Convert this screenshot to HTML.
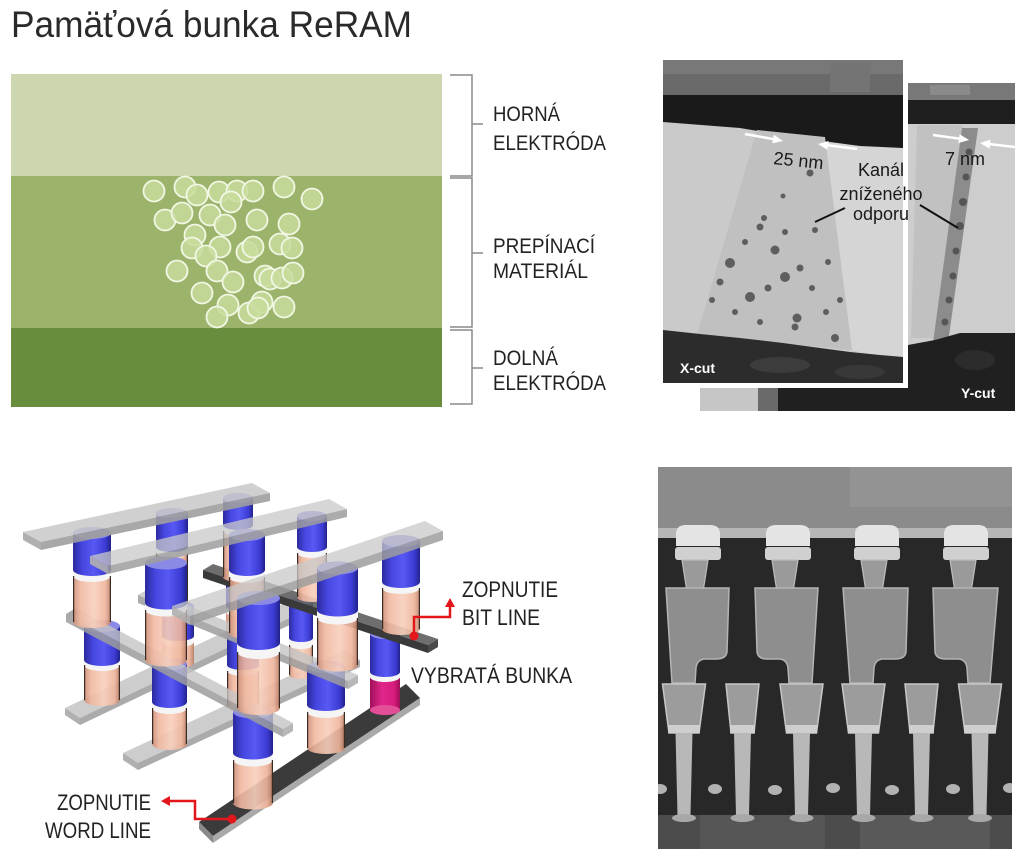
<!DOCTYPE html>
<html><head><meta charset="utf-8"><style>
html,body{margin:0;padding:0;background:#fff;}
svg{display:block;}
text{font-family:"Liberation Sans",sans-serif;}
</style></head><body>
<svg width="1024" height="857" viewBox="0 0 1024 857" xmlns="http://www.w3.org/2000/svg">
<defs>
<linearGradient id="blu" x1="0" x2="1" y1="0" y2="0"><stop offset="0" stop-color="#2a2a9e"/><stop offset=".25" stop-color="#4646e0"/><stop offset=".55" stop-color="#5858f4"/><stop offset=".85" stop-color="#3c3cd4"/><stop offset="1" stop-color="#22228a"/></linearGradient>
<linearGradient id="pch" x1="0" x2="1" y1="0" y2="0"><stop offset="0" stop-color="#c98c74"/><stop offset=".2" stop-color="#f0b8a0"/><stop offset=".55" stop-color="#f8cfbc"/><stop offset=".85" stop-color="#eeb49a"/><stop offset="1" stop-color="#b97b63"/></linearGradient>
<linearGradient id="mag" x1="0" x2="1" y1="0" y2="0"><stop offset="0" stop-color="#a0105a"/><stop offset=".4" stop-color="#e0268a"/><stop offset=".8" stop-color="#d81c7c"/><stop offset="1" stop-color="#9c0e56"/></linearGradient>
<clipPath id="xc"><rect x="663" y="60" width="240" height="323"/></clipPath>
<clipPath id="sem"><rect x="658" y="467" width="354" height="382"/></clipPath>
</defs>
<rect width="1024" height="857" fill="#fff"/>

<!-- Title -->
<text x="11" y="37" font-size="37" fill="#2a2a2a" textLength="401" lengthAdjust="spacingAndGlyphs">Pamäťová bunka ReRAM</text>

<!-- Green panel -->
<rect x="11" y="74" width="431" height="102" fill="#ccd7b0"/>
<rect x="11" y="176" width="431" height="152" fill="#9cb36c"/>
<rect x="11" y="328" width="431" height="79" fill="#678d3d"/>
<g fill="#c8dc9c" fill-opacity=".85" stroke="#f2f7e4" stroke-width="1.8">
<circle cx="154" cy="191" r="10.5"/><circle cx="185" cy="187" r="10.5"/><circle cx="197" cy="195" r="10.5"/><circle cx="219" cy="192" r="10.5"/><circle cx="237" cy="191" r="10.5"/><circle cx="253" cy="191" r="10.5"/><circle cx="231" cy="202" r="10.5"/><circle cx="284" cy="187" r="10.5"/><circle cx="312" cy="199" r="10.5"/>
<circle cx="165" cy="220" r="10.5"/><circle cx="182" cy="213" r="10.5"/><circle cx="210" cy="215" r="10.5"/><circle cx="225" cy="225" r="10.5"/><circle cx="257" cy="220" r="10.5"/><circle cx="289" cy="224" r="10.5"/>
<circle cx="195" cy="235" r="10.5"/><circle cx="192" cy="248" r="10.5"/><circle cx="220" cy="247" r="10.5"/><circle cx="206" cy="256" r="10.5"/><circle cx="247" cy="252" r="10.5"/><circle cx="253" cy="247" r="10.5"/><circle cx="280" cy="244" r="10.5"/><circle cx="292" cy="248" r="10.5"/>
<circle cx="177" cy="271" r="10.5"/><circle cx="217" cy="271" r="10.5"/><circle cx="233" cy="282" r="10.5"/><circle cx="265" cy="276" r="10.5"/><circle cx="270" cy="279" r="10.5"/><circle cx="282" cy="278" r="10.5"/><circle cx="293" cy="273" r="10.5"/>
<circle cx="202" cy="293" r="10.5"/><circle cx="228" cy="305" r="10.5"/><circle cx="217" cy="317" r="10.5"/><circle cx="249" cy="313" r="10.5"/><circle cx="262" cy="302" r="10.5"/><circle cx="258" cy="308" r="10.5"/><circle cx="284" cy="307" r="10.5"/>
</g>
<path d="M450,75H472V176H450M472,124H483M450,178H472V327H450M472,253H483M450,330H472V404H450M472,368H483" fill="none" stroke="#8a8a8a" stroke-width="1.5"/>
<g font-size="21.5" fill="#222">
<text x="493" y="121" textLength="67" lengthAdjust="spacingAndGlyphs">HORNÁ</text>
<text x="493" y="150" textLength="113" lengthAdjust="spacingAndGlyphs">ELEKTRÓDA</text>
<text x="493" y="253" textLength="102" lengthAdjust="spacingAndGlyphs">PREPÍNACÍ</text>
<text x="493" y="278" textLength="95" lengthAdjust="spacingAndGlyphs">MATERIÁL</text>
<text x="493" y="365" textLength="65" lengthAdjust="spacingAndGlyphs">DOLNÁ</text>
<text x="493" y="390" textLength="113" lengthAdjust="spacingAndGlyphs">ELEKTRÓDA</text>
</g>

<!-- TEM: Y-cut back panel -->
<rect x="700" y="83" width="315" height="328" fill="#cdcdcd"/>
<rect x="700" y="83" width="315" height="18" fill="#787878"/>
<rect x="930" y="85" width="40" height="10" fill="#8a8a8a"/>
<rect x="700" y="100" width="315" height="24" fill="#1e1e1e"/>
<polygon points="917,125 962,125 940,338 911,338" fill="#c1c1c1"/>
<polygon points="962,128 978,128 948,343 933,343" fill="#8c8c8c"/>
<g fill="#555"><circle cx="969" cy="152" r="3.5"/><circle cx="966" cy="177" r="3.5"/><circle cx="963" cy="202" r="4"/><circle cx="960" cy="226" r="4"/><circle cx="956" cy="251" r="3.5"/><circle cx="953" cy="276" r="3.5"/><circle cx="949" cy="300" r="3.5"/><circle cx="945" cy="322" r="3.5"/></g>
<path d="M908,345L935,340L960,333L1015,333V411H700V345Z" fill="#202020"/>
<ellipse cx="975" cy="360" rx="20" ry="10" fill="#2c2c2c"/>
<rect x="700" y="386" width="58" height="25" fill="#c6c6c6"/>
<rect x="758" y="386" width="20" height="25" fill="#6a6a6a"/>
<text x="961" y="398" font-size="14" font-weight="bold" fill="#fff">Y-cut</text>

<!-- TEM: X-cut panel -->
<rect x="663" y="60" width="245" height="328" fill="#fff"/>
<g clip-path="url(#xc)">
<rect x="663" y="60" width="240" height="323" fill="#cacaca"/>
<polygon points="823,137 903,147 903,360 850,350" fill="#d5d5d5"/>
<rect x="663" y="60" width="240" height="38" fill="#6a6a6a"/>
<rect x="663" y="60" width="240" height="14" fill="#787878"/>
<rect x="830" y="62" width="40" height="30" fill="#747474"/>
<polygon points="663,95 903,95 903,148 860,146 830,142 800,139 770,133 740,128 663,122" fill="#1a1a1a"/>
<polygon points="757,130 825,137 852,350 697,335" fill="#c0c0c0"/>
<g fill="#5e5e5e">
<circle cx="810" cy="173" r="3.5"/><circle cx="783" cy="196" r="2.5"/><circle cx="764" cy="218" r="3"/><circle cx="760" cy="227" r="3.5"/><circle cx="785" cy="232" r="3"/><circle cx="775" cy="250" r="4.5"/><circle cx="730" cy="263" r="5"/><circle cx="745" cy="242" r="3"/><circle cx="720" cy="282" r="3.5"/><circle cx="785" cy="277" r="5"/><circle cx="800" cy="268" r="3.5"/><circle cx="750" cy="297" r="5"/><circle cx="768" cy="288" r="3.5"/><circle cx="812" cy="288" r="3"/><circle cx="797" cy="318" r="4.5"/><circle cx="795" cy="327" r="3.5"/><circle cx="835" cy="338" r="4"/><circle cx="826" cy="312" r="3"/><circle cx="735" cy="312" r="3"/><circle cx="760" cy="322" r="3"/><circle cx="815" cy="230" r="3"/><circle cx="828" cy="262" r="3"/><circle cx="712" cy="300" r="3"/><circle cx="840" cy="300" r="3"/>
</g>
<path d="M663,330L700,334L740,338L783,343L820,348L850,352L880,355L903,357V383H663Z" fill="#2c2c2c"/>
<ellipse cx="780" cy="365" rx="30" ry="8" fill="#3c3c3c"/>
<ellipse cx="860" cy="372" rx="25" ry="7" fill="#383838"/>
<text x="680" y="373" font-size="14" font-weight="bold" fill="#fff">X-cut</text>
</g>
<!-- white arrows -->
<g stroke="#fff" stroke-width="2.5" fill="none"><path d="M745,134L776,139.6"/><path d="M857,149L826,145"/><path d="M933,135L962,139"/><path d="M1015,147L986,143.7"/></g>
<g fill="#fff"><polygon points="783,141 772.2,143.4 773.8,134.6"/><polygon points="818,144 828.6,141 827.4,149.9"/><polygon points="969,140 958.4,143 959.6,134.2"/><polygon points="980,143 990.5,139.6 989.5,148.6"/></g>
<g fill="#1a1a1a" font-size="18">
<text x="773" y="164" transform="rotate(6 773 164)">25 nm</text>
<text x="945" y="165">7 nm</text>
<text x="881" y="176" text-anchor="middle">Kanál</text>
<text x="881" y="200" text-anchor="middle">zníženého</text>
<text x="881" y="220" text-anchor="middle">odporu</text>
</g>
<path d="M815,222L845,208M920,205L958,228" stroke="#111" stroke-width="2"/>

<!-- SEM image -->
<g clip-path="url(#sem)">
<rect x="658" y="467" width="354" height="382" fill="#282828"/>
<rect x="658" y="467" width="354" height="63" fill="#8b8b8b"/>
<rect x="850" y="467" width="162" height="40" fill="#939393"/>
<rect x="658" y="528" width="354" height="10" fill="#b6b6b6"/>
<g>
<path d="M676,546V534Q676,525 686,525H710Q720,525 720,534V546Z" fill="#e4e4e4"/><rect x="675" y="547" width="46" height="13" rx="3" fill="#d0d0d0"/>
<path d="M766,546V534Q766,525 776,525H800Q810,525 810,534V546Z" fill="#e4e4e4"/><rect x="765" y="547" width="46" height="13" rx="3" fill="#d0d0d0"/>
<path d="M855,546V534Q855,525 865,525H889Q899,525 899,534V546Z" fill="#e4e4e4"/><rect x="854" y="547" width="46" height="13" rx="3" fill="#d0d0d0"/>
<path d="M944,546V534Q944,525 954,525H978Q988,525 988,534V546Z" fill="#e4e4e4"/><rect x="943" y="547" width="46" height="13" rx="3" fill="#d0d0d0"/>
</g>
<g fill="#9a9a9a" stroke="#bdbdbd" stroke-width="1.2">
<polygon points="682,560 708,560 703,592 687,592"/><polygon points="772,560 798,560 793,592 777,592"/><polygon points="861,560 887,560 882,592 866,592"/><polygon points="950,560 976,560 971,592 955,592"/>
</g>
<g fill="#8e8e8e" stroke="#b4b4b4" stroke-width="1.5">
<path d="M666,588L729,588L727,652Q726,659 716,659L704,659Q697,660 696,668L695,683L672,683Z"/>
<path d="M755,588L818,588L812,683L789,683L788,668Q787,660 780,659L767,659Q758,659 757,652Z"/>
<path d="M843,588L908,588L906,652Q905,659 895,659L882,659Q875,660 874,668L873,683L850,683Z"/>
<path d="M933,588L998,588L990,683L968,683L967,668Q966,660 959,659L946,659Q936,659 935,652Z"/>
</g>
<g fill="#9c9c9c" stroke="#c6c6c6" stroke-width="1.5">
<polygon points="662.5,684 705.5,684 699,733 669,733"/><polygon points="726,684 759,684 754,733 731,733"/><polygon points="780,684 823,684 816.5,733 786.5,733"/><polygon points="842,684 885,684 878.5,733 848.5,733"/><polygon points="905,684 938,684 933,733 910,733"/><polygon points="958.5,684 1001.5,684 995,733 965,733"/>
</g>
<g fill="#cfcfcf"><rect x="668" y="725" width="32" height="8"/><rect x="730" y="725" width="25" height="8"/><rect x="786" y="725" width="31" height="8"/><rect x="848" y="725" width="31" height="8"/><rect x="909" y="725" width="25" height="8"/><rect x="964" y="725" width="32" height="8"/></g>
<rect x="658" y="815" width="354" height="34" fill="#4c4c4c"/>
<rect x="700" y="815" width="125" height="34" fill="#565656"/><rect x="860" y="815" width="130" height="34" fill="#595959"/>
<g fill="#b8b8b8">
<polygon points="675.5,733 692.5,733 690.5,815 677.5,815"/><polygon points="734,733 751,733 749,815 736,815"/><polygon points="793,733 810,733 808,815 795,815"/><polygon points="855,733 872,733 870,815 857,815"/><polygon points="913,733 930,733 928,815 915,815"/><polygon points="971.5,733 988.5,733 986.5,815 973.5,815"/>
</g>
<g fill="#a8a8a8"><ellipse cx="684" cy="818" rx="12" ry="4"/><ellipse cx="742.5" cy="818" rx="12" ry="4"/><ellipse cx="801.5" cy="818" rx="12" ry="4"/><ellipse cx="863.5" cy="818" rx="12" ry="4"/><ellipse cx="921.5" cy="818" rx="12" ry="4"/><ellipse cx="980" cy="818" rx="12" ry="4"/></g>
<g fill="#b2b2b2"><ellipse cx="660" cy="789" rx="7" ry="5"/><ellipse cx="715" cy="789" rx="7" ry="5"/><ellipse cx="775" cy="790" rx="7" ry="5"/><ellipse cx="833" cy="788" rx="7" ry="5"/><ellipse cx="892" cy="790" rx="7" ry="5"/><ellipse cx="953" cy="789" rx="7" ry="5"/><ellipse cx="1010" cy="788" rx="7" ry="5"/></g>
</g>

<!-- Crossbar: bottom bars -->
<g>
<polygon points="80,718 300,613 285,603 65,708" fill="#c4c4c4" fill-opacity=".85"/>
<polygon points="80,718 300,613 300,620 80,725" fill="#9c9c9c" fill-opacity=".85"/>
<polygon points="65,708 80,718 80,725 65,715" fill="#b0b0b0"/>
<polygon points="138,763 360,660 345,650 123,753" fill="#c4c4c4" fill-opacity=".85"/>
<polygon points="138,763 360,660 360,667 138,770" fill="#9c9c9c" fill-opacity=".85"/>
<polygon points="123,753 138,763 138,770 123,760" fill="#b0b0b0"/>
<polygon points="213,836 420,698 406,684 199,822" fill="#3b3b3b"/>
<polygon points="213,836 420,698 420,705 213,843" fill="#a9a9a9"/>
<polygon points="199,822 213,836 213,843 199,829" fill="#8a8a8a"/>
</g>

<!-- lower pillars -->
<g>
<!-- L_C -->
<path d="M226,612V634A14,4.5 0 0 0 254,634V612Z" fill="url(#pch)" opacity=".9"/><path d="M226,606V612A14,4.5 0 0 0 254,612V606Z" fill="#f5f5f5"/><path d="M226,580V606A14,4.5 0 0 0 254,606V580Z" fill="url(#blu)"/><ellipse cx="240" cy="580" rx="14" ry="4.5" fill="#8a8ae6"/>
<!-- L_B -->
<path d="M162,642V663A16,5 0 0 0 194,663V642Z" fill="url(#pch)" opacity=".9"/><path d="M162,636V642A16,5 0 0 0 194,642V636Z" fill="#f5f5f5"/><path d="M162,606V636A16,5 0 0 0 194,636V606Z" fill="url(#blu)"/><ellipse cx="178" cy="606" rx="16" ry="5" fill="#8a8ae6"/>
<!-- L_F -->
<path d="M289,645V675A12,4 0 0 0 313,675V645Z" fill="url(#pch)" opacity=".9"/><path d="M289,638V645A12,4 0 0 0 313,645V638Z" fill="#f5f5f5"/><path d="M289,601V638A12,4 0 0 0 313,638V601Z" fill="url(#blu)"/><ellipse cx="301" cy="601" rx="12" ry="4" fill="#8a8ae6"/>
<path d="M289.6,645V675M312.4,645V675" stroke="#3c2a24" stroke-width="1.2"/>
<!-- L_A -->
<path d="M84,665V700A18,6 0 0 0 120,700V665Z" fill="url(#pch)" opacity=".9"/><path d="M84,660V665A18,6 0 0 0 120,665V660Z" fill="#f5f5f5"/><path d="M84,626V660A18,6 0 0 0 120,660V626Z" fill="url(#blu)"/><ellipse cx="102" cy="626" rx="18" ry="6" fill="#8a8ae6"/>
<path d="M84.6,665V700M119.4,665V700" stroke="#3c2a24" stroke-width="1.2"/>
<!-- L_E -->
<path d="M227,671V706A16,5 0 0 0 259,706V671Z" fill="url(#pch)" opacity=".9"/><path d="M227,665V671A16,5 0 0 0 259,671V665Z" fill="#f5f5f5"/><path d="M227,637V665A16,5 0 0 0 259,665V637Z" fill="url(#blu)"/><ellipse cx="243" cy="637" rx="16" ry="5" fill="#8a8ae6"/>
<path d="M227.6,671V706M258.4,671V706" stroke="#3c2a24" stroke-width="1.2"/>
<!-- L_I magenta -->
<path d="M370,677V710A15,5 0 0 0 400,710V677Z" fill="url(#mag)"/><ellipse cx="385" cy="710" rx="15" ry="5" fill="#e24e98"/><path d="M370,672V677A15,5 0 0 0 400,677V672Z" fill="#f5f5f5"/><path d="M370,634V672A15,5 0 0 0 400,672V634Z" fill="url(#blu)"/><ellipse cx="385" cy="634" rx="15" ry="5" fill="#8a8ae6"/>
<!-- L_D -->
<path d="M152,708V744A17.5,6 0 0 0 187,744V708Z" fill="url(#pch)" opacity=".9"/><path d="M152,702V708A17.5,6 0 0 0 187,708V702Z" fill="#f5f5f5"/><path d="M152,664V702A17.5,6 0 0 0 187,702V664Z" fill="url(#blu)"/><ellipse cx="169.5" cy="664" rx="17.5" ry="6" fill="#8a8ae6"/>
<path d="M152.6,708V744M186.4,708V744" stroke="#3c2a24" stroke-width="1.2"/>
<!-- L_H -->
<path d="M307,712V748A19,6 0 0 0 345,748V712Z" fill="url(#pch)" opacity=".9"/><path d="M307,705V712A19,6 0 0 0 345,712V705Z" fill="#f5f5f5"/><path d="M307,667V705A19,6 0 0 0 345,705V667Z" fill="url(#blu)"/><ellipse cx="326" cy="667" rx="19" ry="6" fill="#8a8ae6"/>
<path d="M307.6,712V748M344.4,712V748" stroke="#3c2a24" stroke-width="1.2"/>
<!-- L_G -->
<path d="M233,760V803A20,6.5 0 0 0 273,803V760Z" fill="url(#pch)" opacity=".9"/><path d="M233,753V760A20,6.5 0 0 0 273,760V753Z" fill="#f5f5f5"/><path d="M233,712V753A20,6.5 0 0 0 273,753V712Z" fill="url(#blu)"/><ellipse cx="253" cy="712" rx="20" ry="6.5" fill="#8a8ae6"/>
<path d="M233.6,760V803M272.4,760V803" stroke="#3c2a24" stroke-width="1.2"/>
</g>

<!-- middle bars -->
<g>
<polygon points="203,570 428,645 438,639 213,564" fill="#5e5e5e" fill-opacity=".9"/>
<polygon points="203,570 428,645 428,653 203,578" fill="#3a3a3a"/>
<polygon points="428,645 438,639 438,647 428,653" fill="#4a4a4a"/>
<polygon points="138,595 348,681 358,675 148,589" fill="#c4c4c4" fill-opacity=".8"/>
<polygon points="138,595 348,681 348,689 138,603" fill="#9c9c9c" fill-opacity=".85"/>
<polygon points="348,681 358,675 358,683 348,689" fill="#aaa" fill-opacity=".85"/>
<polygon points="66,614 283,729 293,723 76,608" fill="#c4c4c4" fill-opacity=".8"/>
<polygon points="66,614 283,729 283,737 66,622" fill="#9c9c9c" fill-opacity=".85"/>
<polygon points="283,729 293,723 293,731 283,737" fill="#aaa" fill-opacity=".85"/>
<polygon points="66,614 76,608 76,616 66,622" fill="#aaa"/>
</g>

<!-- upper pillars -->
<g>
<!-- U_C -->
<path d="M223,531V577A15,5 0 0 0 253,577V531Z" fill="url(#pch)" opacity=".9"/><path d="M223,525V531A15,5 0 0 0 253,531V525Z" fill="#f5f5f5"/><path d="M223,498V525A15,5 0 0 0 253,525V498Z" fill="url(#blu)"/><ellipse cx="238" cy="498" rx="15" ry="5" fill="#8a8ae6"/>
<path d="M223.6,531V577M252.4,531V577" stroke="#3c2a24" stroke-width="1.2"/>
<!-- U_B -->
<path d="M156,553V603A16,5 0 0 0 188,603V553Z" fill="url(#pch)" opacity=".9"/><path d="M156,547V553A16,5 0 0 0 188,553V547Z" fill="#f5f5f5"/><path d="M156,513V547A16,5 0 0 0 188,547V513Z" fill="url(#blu)"/><ellipse cx="172" cy="513" rx="16" ry="5" fill="#8a8ae6"/>
<path d="M156.6,553V603M187.4,553V603" stroke="#3c2a24" stroke-width="1.2"/>
<!-- U_F -->
<path d="M297,553V597A15,5 0 0 0 327,597V553Z" fill="url(#pch)" opacity=".9"/><path d="M297,547V553A15,5 0 0 0 327,553V547Z" fill="#f5f5f5"/><path d="M297,516V547A15,5 0 0 0 327,547V516Z" fill="url(#blu)"/><ellipse cx="312" cy="516" rx="15" ry="5" fill="#8a8ae6"/>
<path d="M297.6,553V597M326.4,553V597" stroke="#3c2a24" stroke-width="1.2"/>
<!-- U_A -->
<path d="M73,576V622A19,6 0 0 0 111,622V576Z" fill="url(#pch)" opacity=".9"/><path d="M73,570V576A19,6 0 0 0 111,576V570Z" fill="#f5f5f5"/><path d="M73,533V570A19,6 0 0 0 111,570V533Z" fill="url(#blu)"/><ellipse cx="92" cy="533" rx="19" ry="6" fill="#8a8ae6"/>
<path d="M73.6,576V622M110.4,576V622" stroke="#3c2a24" stroke-width="1.2"/>
<!-- U_E -->
<path d="M229,577V633A18,6 0 0 0 265,633V577Z" fill="url(#pch)" opacity=".9"/><path d="M229,570V577A18,6 0 0 0 265,577V570Z" fill="#f5f5f5"/><path d="M229,535V570A18,6 0 0 0 265,570V535Z" fill="url(#blu)"/><ellipse cx="247" cy="535" rx="18" ry="6" fill="#8a8ae6"/>
<path d="M229.6,577V633M264.4,577V633" stroke="#3c2a24" stroke-width="1.2"/>
<!-- U_I -->
<path d="M382,588V629A19,6 0 0 0 420,629V588Z" fill="url(#pch)" opacity=".9"/><path d="M382,582V588A19,6 0 0 0 420,588V582Z" fill="#f5f5f5"/><path d="M382,541V582A19,6 0 0 0 420,582V541Z" fill="url(#blu)"/><ellipse cx="401" cy="541" rx="19" ry="6" fill="#8a8ae6"/>
<path d="M382.6,588V629M419.4,588V629" stroke="#3c2a24" stroke-width="1.2"/>
<!-- U_D -->
<path d="M145,610V660A21,6.5 0 0 0 187,660V610Z" fill="url(#pch)" opacity=".9"/><path d="M145,603V610A21,6.5 0 0 0 187,610V603Z" fill="#f5f5f5"/><path d="M145,563V603A21,6.5 0 0 0 187,603V563Z" fill="url(#blu)"/><ellipse cx="166" cy="563" rx="21" ry="6.5" fill="#8a8ae6"/>
<path d="M145.6,610V660M186.4,610V660" stroke="#3c2a24" stroke-width="1.2"/>
<!-- U_H -->
<path d="M317,618V665A20.5,6.5 0 0 0 358,665V618Z" fill="url(#pch)" opacity=".9"/><path d="M317,610V618A20.5,6.5 0 0 0 358,618V610Z" fill="#f5f5f5"/><path d="M317,568V610A20.5,6.5 0 0 0 358,610V568Z" fill="url(#blu)"/><ellipse cx="337.5" cy="568" rx="20.5" ry="6.5" fill="#8a8ae6"/>
<path d="M317.6,618V665M357.4,618V665" stroke="#3c2a24" stroke-width="1.2"/>
<!-- U_G -->
<path d="M237,652V708A21.5,7 0 0 0 280,708V652Z" fill="url(#pch)" opacity=".9"/><path d="M237,643V652A21.5,7 0 0 0 280,652V643Z" fill="#f5f5f5"/><path d="M237,598V643A21.5,7 0 0 0 280,643V598Z" fill="url(#blu)"/><ellipse cx="258.5" cy="598" rx="21.5" ry="7" fill="#8a8ae6"/>
<path d="M237.6,652V708M279.4,652V708" stroke="#3c2a24" stroke-width="1.2"/>
</g>

<!-- top bars -->
<g>
<polygon points="23,532 252,483 270,493 41,542" fill="#c8c8c8" fill-opacity=".85"/>
<polygon points="41,542 270,493 270,501 41,550" fill="#9e9e9e" fill-opacity=".9"/>
<polygon points="23,532 41,542 41,550 23,540" fill="#b0b0b0"/>
<polygon points="90,556 329,499 347,509 108,566" fill="#c8c8c8" fill-opacity=".75"/>
<polygon points="108,566 347,509 347,517 108,574" fill="#9e9e9e" fill-opacity=".85"/>
<polygon points="90,556 108,566 108,574 90,564" fill="#b0b0b0" fill-opacity=".9"/>
<polygon points="172,606 425,521 443,531 190,616" fill="#c8c8c8" fill-opacity=".75"/>
<polygon points="190,616 443,531 443,540 190,625" fill="#9e9e9e" fill-opacity=".85"/>
<polygon points="172,606 190,616 190,625 172,615" fill="#b0b0b0" fill-opacity=".9"/>
</g>

<!-- red arrows -->
<g stroke="#e3161b" stroke-width="2.5" fill="none">
<polyline points="414,636 414,617 450,617 450,606"/>
<polyline points="232,819 195,819 195,801 170,801"/>
</g>
<g fill="#e3161b">
<circle cx="414" cy="636" r="4.5"/><polygon points="450,598 445,607 455,607"/>
<circle cx="232" cy="819" r="4.5"/><polygon points="161,801 170,796 170,806"/>
</g>
<g font-size="22" fill="#222">
<text x="462" y="597" textLength="96" lengthAdjust="spacingAndGlyphs">ZOPNUTIE</text>
<text x="462" y="625" textLength="78" lengthAdjust="spacingAndGlyphs">BIT LINE</text>
<text x="411" y="683" textLength="161" lengthAdjust="spacingAndGlyphs">VYBRATÁ BUNKA</text>
<text x="57" y="810" textLength="94" lengthAdjust="spacingAndGlyphs">ZOPNUTIE</text>
<text x="45" y="838" textLength="106" lengthAdjust="spacingAndGlyphs">WORD LINE</text>
</g>
</svg>
</body></html>
